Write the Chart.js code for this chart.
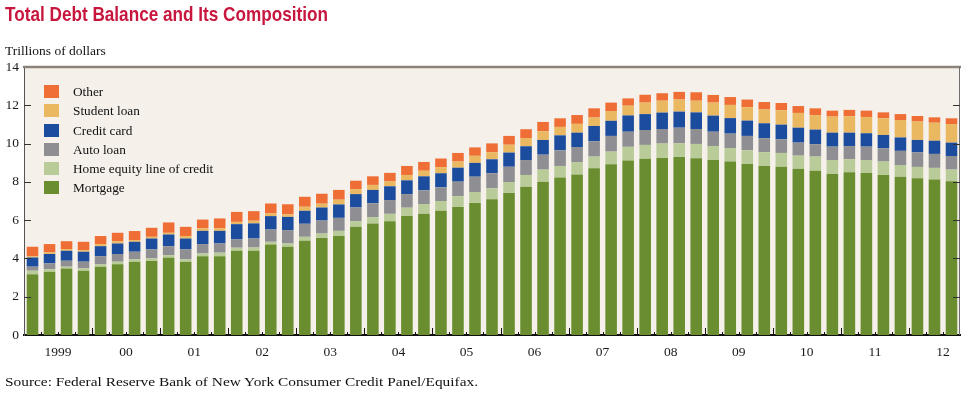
<!DOCTYPE html>
<html><head><meta charset="utf-8">
<script src="https://cdn.jsdelivr.net/npm/chart.js@4.4.0/dist/chart.umd.min.js"></script>
<style>
html,body{margin:0;padding:0;background:#fff;width:969px;height:398px;overflow:hidden;}
#wrap{position:relative;width:969px;height:398px;}
canvas{position:absolute;left:0;top:0;}
.title{position:absolute;left:5px;top:2px;font-family:"Liberation Sans",Arial,sans-serif;font-weight:bold;font-size:21px;color:#C8173F;white-space:nowrap;transform-origin:0 0;}
.unit{position:absolute;left:5px;top:43px;font-family:"Liberation Serif",serif;font-size:13.5px;color:#111;white-space:nowrap;}
.source{position:absolute;left:5px;top:374px;font-family:"Liberation Serif",serif;font-size:13.5px;color:#111;white-space:nowrap;transform-origin:0 0;}
#legend{position:absolute;left:44px;top:85px;font-family:"Liberation Serif",serif;font-size:13.3px;color:#111;}
.li{height:19.3px;position:relative;white-space:nowrap;}
.sw{position:absolute;left:0;top:0;width:15px;height:13px;}
.tx{position:absolute;left:29px;top:-2px;line-height:17px;}
</style></head>
<body><div id="wrap">
<canvas id="c" width="969" height="398"></canvas>
<div class="title" id="title">Total Debt Balance and Its Composition</div>
<div class="unit">Trillions of dollars</div>
<div id="legend"></div>
<div class="source" id="source">Source: Federal Reserve Bank of New York Consumer Credit Panel/Equifax.</div>
</div>
<script>
const categories = [
 "1999Q1","1999Q2","1999Q3","1999Q4","2000Q1","2000Q2","2000Q3","2000Q4",
 "2001Q1","2001Q2","2001Q3","2001Q4","2002Q1","2002Q2","2002Q3","2002Q4",
 "2003Q1","2003Q2","2003Q3","2003Q4","2004Q1","2004Q2","2004Q3","2004Q4",
 "2005Q1","2005Q2","2005Q3","2005Q4","2006Q1","2006Q2","2006Q3","2006Q4",
 "2007Q1","2007Q2","2007Q3","2007Q4","2008Q1","2008Q2","2008Q3","2008Q4",
 "2009Q1","2009Q2","2009Q3","2009Q4","2010Q1","2010Q2","2010Q3","2010Q4",
 "2011Q1","2011Q2","2011Q3","2011Q4","2012Q1","2012Q2","2012Q3"];
const yearLabels = ["1999","00","01","02","03","04","05","06","07","08","09","10","11","12"];
const yTicks = [0,2,4,6,8,10,12,14];

const mortgage = [3.17,3.30,3.48,3.36,3.57,3.69,3.83,3.86,4.03,3.83,4.12,4.12,4.40,4.40,4.73,4.61,
 4.92,5.07,5.17,5.66,5.83,5.94,6.22,6.34,6.49,6.69,6.90,7.09,7.42,7.75,8.01,8.23,
 8.39,8.71,8.92,9.11,9.21,9.25,9.30,9.23,9.14,9.06,8.93,8.83,8.79,8.69,8.58,8.41,
 8.50,8.46,8.36,8.27,8.19,8.12,8.03];
const heloc = [0.19,0.14,0.09,0.12,0.13,0.14,0.12,0.14,0.14,0.12,0.14,0.18,0.16,0.17,0.14,0.17,
 0.21,0.23,0.27,0.29,0.33,0.39,0.43,0.50,0.51,0.56,0.57,0.57,0.57,0.61,0.63,0.60,
 0.64,0.61,0.66,0.72,0.72,0.75,0.71,0.75,0.73,0.71,0.72,0.72,0.72,0.68,0.74,0.73,
 0.68,0.68,0.70,0.61,0.59,0.61,0.61];
const autoLoan = [0.21,0.30,0.31,0.35,0.42,0.40,0.40,0.47,0.47,0.52,0.49,0.48,0.43,0.47,0.64,0.70,
 0.68,0.68,0.68,0.71,0.72,0.72,0.71,0.72,0.71,0.76,0.80,0.79,0.80,0.78,0.78,0.82,
 0.79,0.80,0.82,0.79,0.78,0.76,0.82,0.78,0.75,0.75,0.75,0.73,0.71,0.68,0.65,0.70,
 0.69,0.70,0.69,0.74,0.76,0.73,0.71];
const creditCard = [0.48,0.49,0.52,0.52,0.52,0.55,0.52,0.57,0.61,0.57,0.69,0.66,0.80,0.79,0.70,0.69,
 0.68,0.68,0.70,0.70,0.70,0.72,0.72,0.73,0.74,0.73,0.72,0.73,0.74,0.72,0.77,0.78,
 0.75,0.80,0.79,0.85,0.83,0.86,0.84,0.87,0.84,0.81,0.80,0.78,0.77,0.78,0.76,0.73,
 0.70,0.70,0.70,0.70,0.65,0.69,0.70];
const studentLoan = [0.07,0.08,0.09,0.08,0.11,0.12,0.09,0.09,0.09,0.13,0.13,0.13,0.12,0.14,0.14,0.13,
 0.21,0.20,0.25,0.26,0.26,0.25,0.28,0.29,0.32,0.32,0.37,0.37,0.41,0.43,0.45,0.44,
 0.46,0.44,0.51,0.51,0.60,0.62,0.63,0.61,0.68,0.69,0.70,0.72,0.75,0.77,0.76,0.84,
 0.86,0.85,0.87,0.91,0.96,0.94,0.97];
const other = [0.49,0.44,0.41,0.44,0.42,0.44,0.47,0.47,0.54,0.48,0.46,0.52,0.52,0.50,0.52,0.53,
 0.52,0.52,0.51,0.44,0.45,0.45,0.47,0.46,0.45,0.45,0.44,0.46,0.46,0.46,0.49,0.45,
 0.46,0.48,0.44,0.38,0.41,0.39,0.40,0.44,0.40,0.41,0.40,0.39,0.38,0.36,0.35,0.31,
 0.33,0.33,0.31,0.31,0.29,0.28,0.30];

const seriesNames = ["Mortgage","Home equity line of credit","Auto loan","Credit card","Student loan","Other"];
const seriesColors = ["#6A8D2F","#B8CB98","#8F8F93","#1B4C9E","#EBB862","#EE6E36"];
const seriesData = [mortgage, heloc, autoLoan, creditCard, studentLoan, other];

// fit title and source widths to the reference widths
function fitWidth(id, target) {
  const el = document.getElementById(id);
  const w = el.getBoundingClientRect().width;
  if (w > 0) el.style.transform = 'scaleX(' + (target / w) + ')';
}
fitWidth('title', 323);
fitWidth('source', 473);

// HTML legend (top to bottom: Other ... Mortgage)
const lg = document.getElementById('legend');
for (let i = seriesNames.length - 1; i >= 0; i--) {
  const row = document.createElement('div'); row.className = 'li';
  const sw = document.createElement('div'); sw.className = 'sw'; sw.style.background = seriesColors[i];
  const tx = document.createElement('div'); tx.className = 'tx'; tx.textContent = seriesNames[i];
  row.appendChild(sw); row.appendChild(tx); lg.appendChild(row);
}

const decor = {
  id: 'decor',
  beforeDraw(chart) {
    const {ctx, chartArea: a} = chart;
    ctx.save();
    ctx.fillStyle = '#F5F1EA';
    ctx.fillRect(a.left, a.top, a.right - a.left, a.bottom - a.top);
    ctx.restore();
  },
  afterDraw(chart) {
    const {ctx, chartArea: a, scales: {x, y}} = chart;
    ctx.save();
    const line = (x1, y1, x2, y2) => { ctx.beginPath(); ctx.moveTo(x1, y1); ctx.lineTo(x2, y2); ctx.stroke(); };
    ctx.strokeStyle = '#8C8478'; ctx.lineWidth = 2.5;
    line(a.left - 1, a.top, a.right + 1, a.top);
    ctx.strokeStyle = '#6E6E6E'; ctx.lineWidth = 1;
    line(a.right - 0.5, a.top, a.right - 0.5, a.bottom);
    ctx.strokeStyle = '#333';
    yTicks.forEach(v => {
      if (v === 0 || v === 14) return;
      const py = Math.round(y.getPixelForValue(v)) + 0.5;
      line(a.left, py, a.left + 7, py);
      line(a.right - 7, py, a.right, py);
    });
    ctx.strokeStyle = '#111';
    for (let i = 1; i < categories.length; i++) {
      const px = Math.round((x.getPixelForValue(i - 1) + x.getPixelForValue(i)) / 2) + 0.5;
      const h = (i % 4 === 0) ? 7 : 3;
      line(px, a.bottom, px, a.bottom - h);
    }
    ctx.fillStyle = '#1a1a1a';
    ctx.font = '13.5px "Liberation Serif", serif';
    ctx.textAlign = 'center'; ctx.textBaseline = 'middle';
    yearLabels.forEach((lab, k) => {
      const px = x.getPixelForValue(4 * k + 1.5);
      ctx.fillText(lab, px, a.bottom + 17);
    });
    ctx.restore();
  }
};

new Chart(document.getElementById('c'), {
  type: 'bar',
  data: {
    labels: categories,
    datasets: seriesData.map((d, i) => ({
      label: seriesNames[i], data: d, backgroundColor: seriesColors[i],
      borderWidth: 0, barPercentage: 0.68, categoryPercentage: 1.0
    }))
  },
  options: {
    responsive: false, animation: false,
    layout: {padding: {top: 67, bottom: 63, left: 0, right: 9}},
    plugins: {legend: {display: false}, tooltip: {enabled: false}},
    scales: {
      x: {
        stacked: true, offset: true,
        grid: {display: false, drawTicks: false},
        ticks: {display: false},
        border: {display: true, color: '#111', width: 2},
        afterFit(s) { s.height = 0; }
      },
      y: {
        stacked: true, min: 0, max: 14,
        afterBuildTicks(s) { s.ticks = yTicks.map(v => ({value: v})); },
        grid: {display: false, drawTicks: false},
        ticks: {padding: 5, color: '#1a1a1a', font: {family: '"Liberation Serif", serif', size: 13.5}},
        border: {display: true, color: '#555', width: 1},
        afterFit(s) { s.width = 24; }
      }
    }
  },
  plugins: [decor]
});
</script>
</body></html>
